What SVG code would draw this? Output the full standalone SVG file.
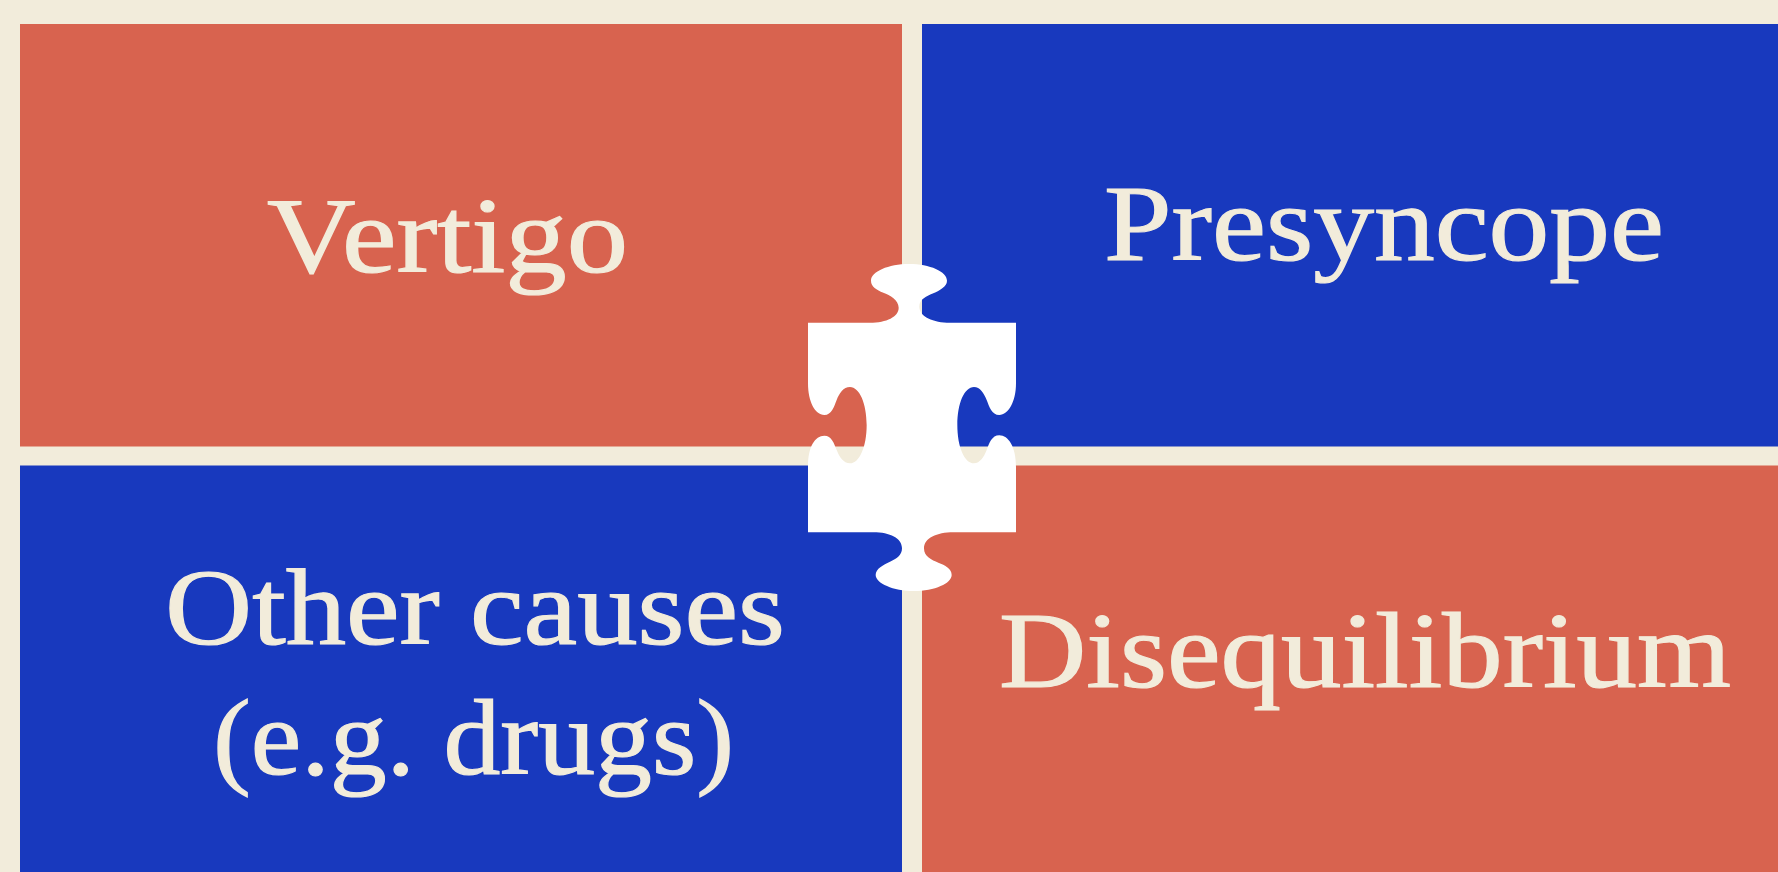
<svg xmlns="http://www.w3.org/2000/svg" width="1778" height="872" viewBox="0 0 1778 872">
<style>
.red{fill:#D8634F}.blue{fill:#1839BE}
text{font-family:"Liberation Serif","Times New Roman",serif;font-size:108px;fill:#F2ECDB;stroke:#F2ECDB;stroke-width:1.2px}
</style>
<rect width="1778" height="872" fill="#F2ECDB"/>
<g id="vertigo"><rect class="red" x="20" y="24" width="882" height="422.5"/><text x="267" y="272" textLength="361" lengthAdjust="spacingAndGlyphs">Vertigo</text></g>
<g id="presyncope"><rect class="blue" x="922" y="24" width="856" height="422.5"/><text x="1104" y="260" textLength="560" lengthAdjust="spacingAndGlyphs">Presyncope</text></g>
<g id="other-causes"><rect class="blue" x="20" y="465.5" width="882" height="406.5"/><text x="165" y="644" textLength="620" lengthAdjust="spacingAndGlyphs">Other causes</text><text x="213" y="774" textLength="521" lengthAdjust="spacingAndGlyphs">(e.g. drugs)</text></g>
<g id="disequilibrium"><rect class="red" x="922" y="465.5" width="856" height="406.5"/><text x="999" y="687" textLength="732" lengthAdjust="spacingAndGlyphs">Disequilibrium</text></g>
<g id="puzzle-piece"><path fill="#FFFFFF" transform="translate(780 240) scale(.33333)" d="M84 248 L270 248 C320 248 356 230 356 203 C356 180 330 165 310 158 C290 150 273 140 273 122 C273 95 325 72 387 72 C450 72 501 95 501 122 C501 140 480 150 460 160 C440 168 418 178 418 200 C418 230 460 248 510 248 L708 248 L708 430 C708 485 685 525 658 525 C635 525 628 500 620 480 C612 460 600 441 582 441 C553 441 532 490 532 555 C532 620 553 670 582 670 C600 670 612 650 620 630 C628 610 635 586 658 586 C685 586 708 620 708 680 L708 877 L520 877 C470 877 432 895 432 925 C432 950 455 960 475 968 C495 976 515 985 515 1005 C515 1030 465 1053 401 1053 C340 1053 287 1030 287 1005 C287 985 310 975 330 965 C350 957 366 945 366 925 C366 895 330 877 280 877 L84 877 L84 680 C84 620 105 587 133 587 C155 587 162 610 170 630 C178 650 190 670 210 670 C238 670 260 620 260 555 C260 490 238 441 210 441 C190 441 178 460 170 480 C162 500 155 525 133 525 C105 525 84 485 84 430 Z"/></g>
<g id="connectors"></g>
</svg>
